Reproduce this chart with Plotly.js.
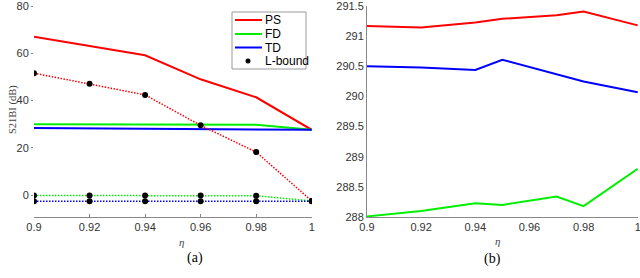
<!DOCTYPE html>
<html><head><meta charset="utf-8">
<script src="https://cdn.plot.ly/plotly-3.0.1.min.js"></script>
<style>body{margin:0;padding:0;background:#fff}#c{width:640px;height:278px}</style>
</head><body><div id="c"></div>
<script>
// (a) left panel
const etaA = [0.9, 0.92, 0.94, 0.96, 0.98, 1];
const psA = [67.0, 63.2, 59.2, 49.0, 41.4, 27.6];
const fdA = [30.0, 30.0, 30.0, 30.0, 29.8, 27.6];
const tdA = [28.4, 28.3, 28.2, 28.1, 27.9, 27.6];
const lbPS = [51.6, 47.1, 42.4, 29.5, 18.2, -2.5];
const lbFD = [-0.2, -0.2, -0.2, -0.2, -0.3, -2.5];
const lbTD = [-2.6, -2.6, -2.6, -2.6, -2.6, -2.6];
// (b) right panel
const etaPS = [0.9, 0.92, 0.94, 0.95, 0.97, 0.98, 1];
const psB = [291.17, 291.145, 291.23, 291.29, 291.35, 291.41, 291.18];
const etaTD = [0.9, 0.92, 0.94, 0.95, 0.98, 1];
const tdB = [290.5, 290.48, 290.44, 290.61, 290.25, 290.07];
const etaFD = [0.9, 0.92, 0.94, 0.95, 0.97, 0.98, 1];
const fdB = [288.01, 288.1, 288.23, 288.2, 288.34, 288.18, 288.8];

const xTicks = [0.9, 0.92, 0.94, 0.96, 0.98, 1];
const xTickText = ['0.9', '0.92', '0.94', '0.96', '0.98', '1'];
const yTicksA = [0, 20, 40, 60, 80];
const yTicksB = [288, 288.5, 289, 289.5, 290, 290.5, 291, 291.5];
const yTickTextB = ['288', '288.5', '289', '289.5', '290', '290.5', '291', '291.5'];
const legendNames = ['PS', 'FD', 'TD', 'L-bound'];

const RED = '#ff0000', GREEN = '#00ee00', BLUE = '#0000ff';
const DOT = '1.5px,1.5px';
const traces = [
  {x: etaA, y: psA, mode: 'lines', line: {color: RED, width: 2}, xaxis: 'x', yaxis: 'y'},
  {x: etaA, y: fdA, mode: 'lines', line: {color: GREEN, width: 2}, xaxis: 'x', yaxis: 'y'},
  {x: etaA, y: tdA, mode: 'lines', line: {color: BLUE, width: 2}, xaxis: 'x', yaxis: 'y'},
  {x: etaA, y: lbPS, mode: 'lines', line: {color: RED, width: 1.5, dash: DOT}, xaxis: 'x', yaxis: 'y'},
  {x: etaA, y: lbFD, mode: 'lines', line: {color: GREEN, width: 1.5, dash: DOT}, xaxis: 'x', yaxis: 'y'},
  {x: etaA, y: lbTD, mode: 'lines', line: {color: BLUE, width: 1.5, dash: DOT}, xaxis: 'x', yaxis: 'y'},
  {x: etaA, y: lbPS, mode: 'markers', marker: {color: '#000', size: 6}, xaxis: 'x', yaxis: 'y'},
  {x: etaA, y: lbFD, mode: 'markers', marker: {color: '#000', size: 6}, xaxis: 'x', yaxis: 'y'},
  {x: etaA, y: lbTD, mode: 'markers', marker: {color: '#000', size: 6}, xaxis: 'x', yaxis: 'y'},
  {x: etaPS, y: psB, mode: 'lines', line: {color: RED, width: 2}, xaxis: 'x2', yaxis: 'y2'},
  {x: etaTD, y: tdB, mode: 'lines', line: {color: BLUE, width: 2}, xaxis: 'x2', yaxis: 'y2'},
  {x: etaFD, y: fdB, mode: 'lines', line: {color: GREEN, width: 2}, xaxis: 'x2', yaxis: 'y2'}
];

const W = 640, H = 278;
const px = v => v / W, py = v => 1 - v / H;
const yDom = [1 - 217 / H, 1 - 6 / H];
const tickFont = {family: 'Liberation Sans, Arial, sans-serif', size: 11, color: '#333'};

// manual legend box (styling only)
const legColors = [RED, GREEN, BLUE, null];
const legY = [20, 34, 47.5, 61];
const shapes = [{type: 'rect', xref: 'paper', yref: 'paper', x0: px(232), x1: px(306), y0: py(12), y1: py(69),
  line: {color: '#999', width: 1}, fillcolor: '#fff', layer: 'above'}];
const annotations = [];
legendNames.forEach((n, i) => {
  if (legColors[i]) {
    shapes.push({type: 'line', xref: 'paper', yref: 'paper', x0: px(235), x1: px(262), y0: py(legY[i]), y1: py(legY[i]),
      line: {color: legColors[i], width: 2}, layer: 'above'});
  } else {
    shapes.push({type: 'circle', xref: 'paper', yref: 'paper', x0: px(245.5), x1: px(250.5), y0: py(legY[i] + 2.5), y1: py(legY[i] - 2.5),
      line: {color: '#000', width: 0}, fillcolor: '#000', layer: 'above'});
  }
  annotations.push({text: n, x: px(263), y: py(legY[i]), xref: 'paper', yref: 'paper', xanchor: 'left', yanchor: 'middle',
    showarrow: false, font: {family: 'Liberation Sans, Arial, sans-serif', size: 12, color: '#000'}});
});
annotations.push(
  {text: 'S21BI (dB)', textangle: -90, x: px(5), y: py(110), xref: 'paper', yref: 'paper',
    showarrow: false, font: {family: 'Liberation Serif, Times New Roman, serif', size: 10.5, color: '#444'}},
  {text: '<i>η</i>', x: px(177), y: py(250), xref: 'paper', yref: 'paper', showarrow: false,
    font: {family: 'Liberation Serif, serif', size: 11, color: '#444'}},
  {text: '<i>η</i>', x: px(502), y: py(249), xref: 'paper', yref: 'paper', showarrow: false,
    font: {family: 'Liberation Serif, serif', size: 11, color: '#444'}},
  {text: '(a)', x: px(185), y: py(268), xref: 'paper', yref: 'paper', showarrow: false,
    font: {family: 'Liberation Serif, Times New Roman, serif', size: 14, color: '#000'}},
  {text: '(b)', x: px(503), y: py(269), xref: 'paper', yref: 'paper', showarrow: false,
    font: {family: 'Liberation Serif, Times New Roman, serif', size: 14, color: '#000'}}
);

const layout = {
  width: W, height: H,
  margin: {l: 0, r: 0, t: 0, b: 0},
  paper_bgcolor: '#fff', plot_bgcolor: '#fff',
  showlegend: false,
  xaxis: {domain: [px(34), px(312)], range: [0.9, 1.0001], tickvals: xTicks, ticktext: xTickText,
    showgrid: false, zeroline: false, showline: true, linecolor: '#888', linewidth: 1,
    ticks: 'inside', ticklen: 3, tickcolor: '#888', tickfont: tickFont, anchor: 'y', ticklabeloverflow: 'allow'},
  yaxis: {domain: yDom, range: [-9.3, 80.05], tickvals: yTicksA, showgrid: false, zeroline: false,
    showline: false, ticks: 'outside', ticklen: 2, tickcolor: '#888', tickfont: tickFont, anchor: 'x',
    ticklabeloverflow: 'allow'},
  xaxis2: {domain: [px(367), px(638)], range: [0.9, 1.0001], tickvals: xTicks, ticktext: xTickText,
    showgrid: false, zeroline: false, showline: true, linecolor: '#888', linewidth: 1,
    ticks: '', tickfont: tickFont, anchor: 'y2', ticklabeloverflow: 'allow'},
  yaxis2: {domain: yDom, range: [288, 291.502], tickvals: yTicksB, ticktext: yTickTextB, showgrid: false,
    zeroline: false, showline: true, linecolor: '#888', linewidth: 1, ticks: '', tickfont: tickFont, anchor: 'x2', ticklabeloverflow: 'allow'},
  shapes: shapes,
  annotations: annotations
};
Plotly.newPlot('c', traces, layout, {displayModeBar: false, staticPlot: true});
</script></body></html>
